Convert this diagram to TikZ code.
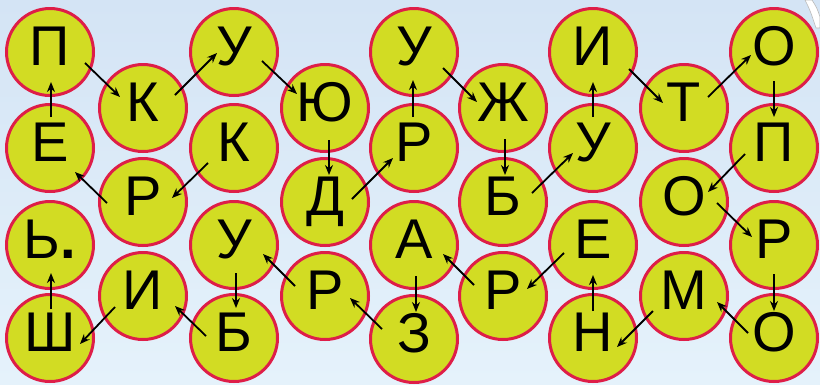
\documentclass[tikz,border=0pt]{standalone}
\usepackage{fontspec}
\setmainfont{Liberation Sans}
\usetikzlibrary{arrows.meta}
\definecolor{bgtop}{RGB}{212,228,245}
\definecolor{bgbot}{RGB}{229,242,251}
\definecolor{disc}{RGB}{210,220,35}
\definecolor{rim}{RGB}{222,30,72}
\tikzset{
  letter/.style={circle, draw=rim, fill=disc, line width=3pt, minimum size=87pt,
    inner sep=0pt, font=\fontsize{56}{60}\selectfont, text height=40pt, text depth=14pt},
  arr/.style={line width=1.8pt, -{Stealth[length=10pt,width=8pt]}},
  curl/.style={draw=gray!55, line width=0.6pt, fill=white}
}
\begin{document}
\begin{tikzpicture}[x=1pt,y=-1pt]
\useasboundingbox (0,0) rectangle (820,384);
\shade[top color=bgtop,bottom color=bgbot] (0,0) rectangle (820,384);
\path[curl] (805,0) .. controls (810,10) .. (816,28) -- (820,28) -- (820,17) .. controls (817,8) .. (812,0) -- cycle;
% column 0
\node[letter] (c00) at (50,52) {П};
\node[letter] (c01) at (50,148) {Е};
\node[letter] (c02) at (50,245) {Ь\textbf{.}};
\node[letter] (c03) at (50,338) {Ш};
% column 1
\node[letter] (c10) at (143,108) {К};
\node[letter] (c11) at (143,202) {Р};
\node[letter] (c12) at (143,296) {И};
% column 2
\node[letter] (c20) at (234,52) {У};
\node[letter] (c21) at (234,148) {К};
\node[letter] (c22) at (234,245) {У};
\node[letter] (c23) at (234,338) {Б};
% column 3
\node[letter] (c30) at (325,108) {Ю};
\node[letter] (c31) at (325,202) {Д};
\node[letter] (c32) at (325,296) {Р};
% column 4
\node[letter] (c40) at (414,52) {У};
\node[letter] (c41) at (414,148) {Р};
\node[letter] (c42) at (414,245) {А};
\node[letter] (c43) at (414,339) {З};
% column 5
\node[letter] (c50) at (503,108) {Ж};
\node[letter] (c51) at (503,202) {Б};
\node[letter] (c52) at (503,296) {Р};
% column 6
\node[letter] (c60) at (593,52) {И};
\node[letter] (c61) at (593,148) {У};
\node[letter] (c62) at (593,245) {Е};
\node[letter] (c63) at (593,338) {Н};
% column 7
\node[letter] (c70) at (684,108) {Т};
\node[letter] (c71) at (684,202) {О};
\node[letter] (c72) at (684,296) {М};
% column 8
\node[letter] (c80) at (774,52) {О};
\node[letter] (c81) at (774,148) {П};
\node[letter] (c82) at (774,245) {Р};
\node[letter] (c83) at (774,338) {О};
% arrows
\draw[arr] ([shift={(-26,15)}]c21.center) -- ([shift={(29,-4)}]c11.center);
\draw[arr] ([shift={(-36,1)}]c11.center) -- ([shift={(25,24)}]c01.center);
\draw[arr] ([shift={(1,-31)}]c01.center) -- ([shift={(1,30)}]c00.center);
\draw[arr] ([shift={(35,11)}]c00.center) -- ([shift={(-23,-11)}]c10.center);
\draw[arr] ([shift={(32,-13)}]c10.center) -- ([shift={(-17,1)}]c20.center);
\draw[arr] ([shift={(28,9)}]c20.center) -- ([shift={(-28,-14)}]c30.center);
\draw[arr] ([shift={(4,32)}]c30.center) -- ([shift={(4,-27)}]c31.center);
\draw[arr] ([shift={(27,-3)}]c31.center) -- ([shift={(-21,10)}]c41.center);
\draw[arr] ([shift={(-1,-31)}]c41.center) -- ([shift={(-1,28)}]c40.center);
\draw[arr] ([shift={(29,16)}]c40.center) -- ([shift={(-26,-6)}]c50.center);
\draw[arr] ([shift={(2,31)}]c50.center) -- ([shift={(2,-27)}]c51.center);
\draw[arr] ([shift={(29,-9)}]c51.center) -- ([shift={(-20,5)}]c61.center);
\draw[arr] ([shift={(0,-31)}]c61.center) -- ([shift={(0,30)}]c60.center);
\draw[arr] ([shift={(36,17)}]c60.center) -- ([shift={(-21,-5)}]c70.center);
\draw[arr] ([shift={(24,-11)}]c70.center) -- ([shift={(-23,3)}]c80.center);
\draw[arr] ([shift={(0,29)}]c80.center) -- ([shift={(0,-31)}]c81.center);
\draw[arr] ([shift={(-29,6)}]c81.center) -- ([shift={(24,-10)}]c71.center);
\draw[arr] ([shift={(33,1)}]c71.center) -- ([shift={(-22,-8)}]c82.center);
\draw[arr] ([shift={(0,29)}]c82.center) -- ([shift={(0,-27)}]c83.center);
\draw[arr] ([shift={(-26,-5)}]c83.center) -- ([shift={(33,6)}]c72.center);
\draw[arr] ([shift={(-31,15)}]c72.center) -- ([shift={(24,9)}]c63.center);
\draw[arr] ([shift={(0,-27)}]c63.center) -- ([shift={(0,30)}]c62.center);
\draw[arr] ([shift={(-29,8)}]c62.center) -- ([shift={(24,-7)}]c52.center);
\draw[arr] ([shift={(-29,-11)}]c52.center) -- ([shift={(29,9)}]c42.center);
\draw[arr] ([shift={(2,31)}]c42.center) -- ([shift={(2,-27)}]c43.center);
\draw[arr] ([shift={(-32,-10)}]c43.center) -- ([shift={(25,2)}]c32.center);
\draw[arr] ([shift={(-30,-10)}]c32.center) -- ([shift={(29,9)}]c22.center);
\draw[arr] ([shift={(2,28)}]c22.center) -- ([shift={(2,-30)}]c23.center);
\draw[arr] ([shift={(-28,-2)}]c23.center) -- ([shift={(32,10)}]c12.center);
\draw[arr] ([shift={(-28,11)}]c12.center) -- ([shift={(30,6)}]c03.center);
\draw[arr] ([shift={(1,-29)}]c03.center) -- ([shift={(1,28)}]c02.center);
\end{tikzpicture}
\end{document}
